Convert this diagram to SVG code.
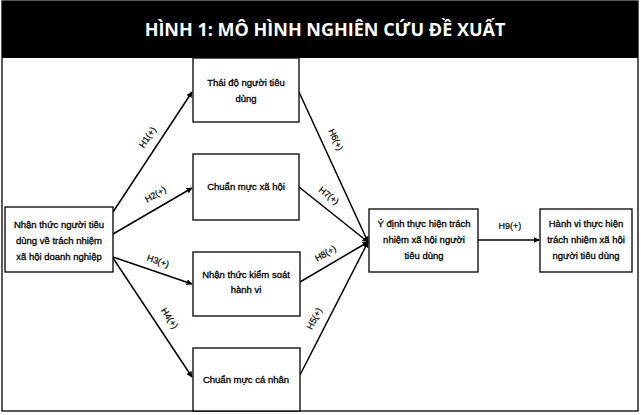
<svg xmlns="http://www.w3.org/2000/svg" width="641" height="415" viewBox="0 0 641 415">
<defs>
<marker id="ah" viewBox="0 0 10 10" refX="9" refY="5" markerWidth="6" markerHeight="6" markerUnits="userSpaceOnUse" orient="auto">
<path d="M0,0 L10,5 L0,10 z" fill="#000"/>
</marker>
<style>
.box{fill:#fff;stroke:#000;stroke-width:1.3}
.t{font-family:"Liberation Sans",Arial,sans-serif;font-size:9.5px;fill:#000;text-anchor:middle;stroke:#000;stroke-width:0.3}
.lbl{font-family:"Liberation Sans",Arial,sans-serif;font-size:9px;fill:#000;text-anchor:middle;stroke:#000;stroke-width:0.2}
.ln{stroke:#000;stroke-width:1.5;fill:none;marker-end:url(#ah)}
.title{font-family:"Open Sans","DejaVu Sans",sans-serif;font-weight:bold;font-size:18px;fill:#fff;text-anchor:middle}
</style>
</defs>
<rect x="0" y="0" width="641" height="415" fill="#fff"/>
<rect x="2" y="1" width="636" height="410" fill="none" stroke="#000" stroke-width="1.3"/>
<g id="title">
<rect x="2" y="1" width="636" height="57" fill="#000"/>
<text class="title" x="325" y="36">HÌNH 1: MÔ HÌNH NGHIÊN CỨU ĐỀ XUẤT</text>
</g>
<g id="connectors">
<line class="ln" x1="113" y1="212" x2="192" y2="92"/>
<line class="ln" x1="113" y1="234" x2="192" y2="188"/>
<line class="ln" x1="113" y1="257" x2="192" y2="284"/>
<line class="ln" x1="113" y1="258" x2="192" y2="377"/>
<line class="ln" x1="299" y1="92" x2="368" y2="242"/>
<line class="ln" x1="299" y1="187" x2="368" y2="242"/>
<line class="ln" x1="300" y1="282" x2="368" y2="242"/>
<line class="ln" x1="300" y1="375" x2="368" y2="242"/>
<line class="ln" x1="478" y1="240" x2="539" y2="240"/>
<text class="lbl" transform="translate(150,139) rotate(-56)">H1(+)</text>
<text class="lbl" transform="translate(157,197) rotate(-30)">H2(+)</text>
<text class="lbl" transform="translate(157,264) rotate(19)">H3(+)</text>
<text class="lbl" transform="translate(167,320) rotate(56)">H4(+)</text>
<text class="lbl" transform="translate(333,141) rotate(65)">H6(+)</text>
<text class="lbl" transform="translate(327,198) rotate(38)">H7(+)</text>
<text class="lbl" transform="translate(327,256) rotate(-30)">H8(+)</text>
<text class="lbl" transform="translate(317,320) rotate(-63)">H5(+)</text>
<text class="lbl" x="510" y="229">H9(+)</text>
</g>
<g id="n0">
<rect class="box" x="5" y="207" width="108" height="65"/>
<text class="t" x="59" y="228">Nhận thức người tiêu</text>
<text class="t" x="59" y="244">dùng về trách nhiệm</text>
<text class="t" x="59" y="260">xã hội doanh nghiệp</text>
</g>
<g id="n1">
<rect class="box" x="193" y="58" width="106" height="64"/>
<text class="t" x="246" y="86">Thái độ người tiêu</text>
<text class="t" x="246" y="102">dùng</text>
</g>
<g id="n2">
<rect class="box" x="193" y="154" width="106" height="66"/>
<text class="t" x="246" y="190">Chuẩn mực xã hội</text>
</g>
<g id="n3">
<rect class="box" x="193" y="252" width="107" height="64"/>
<text class="t" x="246" y="278">Nhận thức kiểm soát</text>
<text class="t" x="246" y="293">hành vi</text>
</g>
<g id="n4">
<rect class="box" x="193" y="348" width="107" height="63"/>
<text class="t" x="246" y="383">Chuẩn mực cá nhân</text>
</g>
<g id="n5">
<rect class="box" x="369" y="209" width="109" height="63"/>
<text class="t" x="424" y="227">Ý định thực hiện trách</text>
<text class="t" x="424" y="243">nhiệm xã hội người</text>
<text class="t" x="424" y="259">tiêu dùng</text>
</g>
<g id="n6">
<rect class="box" x="540" y="209" width="92" height="63"/>
<text class="t" x="586" y="227">Hành vi thực hiện</text>
<text class="t" x="586" y="243">trách nhiệm xã hội</text>
<text class="t" x="586" y="259">người tiêu dùng</text>
</g>
</svg>
